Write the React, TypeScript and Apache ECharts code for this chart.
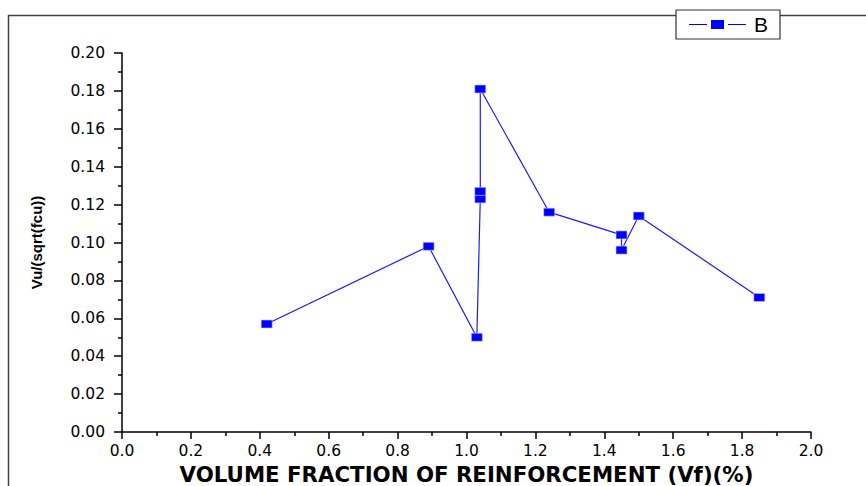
import React, { useEffect, useRef } from "react";
import * as echarts from "echarts";

const seriesName = "B";
const xValues = [0.42, 0.89, 1.03, 1.04, 1.04, 1.04, 1.24, 1.45, 1.45, 1.5, 1.85];
const yValues = [0.057, 0.098, 0.05, 0.123, 0.127, 0.181, 0.116, 0.104, 0.096, 0.114, 0.071];
const xTitle = "VOLUME FRACTION OF REINFORCEMENT (Vf)(%)";
const yTitle = "Vu/(sqrt(fcu))";

export default function App() {
  const ref = useRef<HTMLDivElement>(null);
  useEffect(() => {
    if (!ref.current) return;
    const chart = echarts.init(ref.current, null, { renderer: "svg" });
    const data = xValues.map((x, i) => [x, yValues[i]]);
    const tickFont = { fontFamily: "DejaVu Sans", fontSize: 15.5, color: "#000" };
    chart.setOption({
      animation: false,
      backgroundColor: "#fff",
      grid: { left: 122, top: 53, right: 55, bottom: 54, outerBoundsMode: "none", containLabel: false },
      graphic: [
        {
          type: "rect",
          z: -10,
          shape: { x: 8.5, y: 15.5, width: 900, height: 520 },
          style: { fill: "none", stroke: "#444", lineWidth: 1.5 },
        },
      ],
      legend: {
        left: 676,
        top: 10,
        padding: [4, 12, 4, 13],
        itemWidth: 57,
        itemHeight: 9,
        itemGap: 0,
        borderColor: "#333",
        borderWidth: 1.2,
        backgroundColor: "#fff",
        textStyle: { fontFamily: "Liberation Sans", fontSize: 21, color: "#000", padding: [0, 0, 0, 3] },
        data: [
          {
            name: seriesName,
            icon: "path://M0,4h18v1h-18z M22,0h13v9h-13z M39,4h18v1h-18z",
            itemStyle: { color: "#0000ff", borderWidth: 0 },
          },
        ],
      },
      xAxis: {
        type: "value",
        min: 0,
        max: 2,
        interval: 0.2,
        name: xTitle,
        nameLocation: "middle",
        nameGap: 32,
        nameTextStyle: { fontFamily: "DejaVu Sans", fontWeight: "bold", fontSize: 21.3, color: "#000", lineHeight: 21 },
        axisLine: { show: true, onZero: false, lineStyle: { color: "#000", width: 1.5 } },
        axisTick: { show: true, length: 7, lineStyle: { color: "#000", width: 1.5 } },
        minorTick: { show: true, splitNumber: 2, length: 4, lineStyle: { color: "#000", width: 1.5 } },
        splitLine: { show: false },
        axisLabel: { ...tickFont, margin: 11, formatter: (v: number) => v.toFixed(1) },
      },
      yAxis: {
        type: "value",
        min: 0,
        max: 0.2,
        interval: 0.02,
        name: yTitle,
        nameLocation: "middle",
        nameGap: 78,
        nameTextStyle: { fontFamily: "Liberation Sans", fontWeight: "bold", fontSize: 15, color: "#000" },
        axisLine: { show: true, onZero: false, lineStyle: { color: "#000", width: 1.5 } },
        axisTick: { show: true, length: 8, lineStyle: { color: "#000", width: 1.5 } },
        minorTick: { show: true, splitNumber: 2, length: 4, lineStyle: { color: "#000", width: 1.5 } },
        splitLine: { show: false },
        axisLabel: { ...tickFont, margin: 17, formatter: (v: number) => v.toFixed(2) },
      },
      series: [
        {
          name: seriesName,
          type: "line",
          data,
          symbol: "rect",
          symbolSize: [11, 8],
          lineStyle: { color: "#1a1aff", width: 1.2 },
          itemStyle: { color: "#0000ff", borderColor: "#c8c8ff", borderWidth: 0.6 },
        },
      ],
    });
    return () => chart.dispose();
  }, []);
  return (
    <div
      ref={ref}
      style={{ position: "fixed", left: 0, top: 0, width: 866, height: 486 }}
    />
  );
}
